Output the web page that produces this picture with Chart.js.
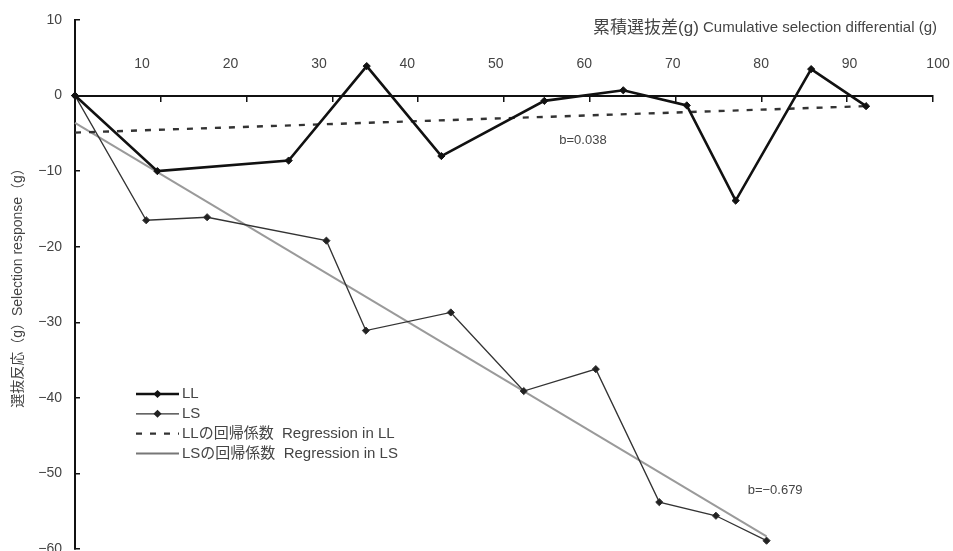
<!DOCTYPE html>
<html>
<head>
<meta charset="utf-8">
<script src="https://cdn.jsdelivr.net/npm/chart.js@4/dist/chart.umd.min.js"></script>
<style>
  html, body { margin: 0; padding: 0; background: #fff; overflow: hidden; }
  #wrap { position: relative; width: 953px; height: 554px; }
</style>
</head>
<body>
<div id="wrap"><canvas id="c"></canvas></div>
<script>
// Cumulative selection differential (g) and selection response (g) per generation
const llX = [0, 9.6, 24.9, 34.0, 42.7, 54.7, 63.9, 71.3, 77.0, 85.8, 92.2];
const llY = [0, -10.0, -8.6, 3.9, -8.0, -0.7, 0.7, -1.3, -13.9, 3.5, -1.4];
const lsX = [0, 8.3, 15.4, 29.3, 33.9, 43.8, 52.3, 60.7, 68.1, 74.7, 80.6];
const lsY = [0, -16.5, -16.1, -19.2, -31.1, -28.7, -39.1, -36.2, -53.8, -55.6, -58.9];

// Regression coefficients (slope b) and intercepts
const llSlope = 0.038, llIntercept = -4.9;
const lsSlope = -0.679, lsIntercept = -3.6;

const xTickLabels = [10, 20, 30, 40, 50, 60, 70, 80, 90, 100];
const seriesNames = ['LL', 'LS', 'LLの回帰係数  Regression in LL', 'LSの回帰係数  Regression in LS'];
const xTitleJa = '累積選抜差(g)';
const xTitleEn = ' Cumulative selection differential (g)';
const yTitle = '選抜反応（g）Selection response（g）';

const FONT = '"Liberation Sans", "Noto Sans CJK JP", sans-serif';
const TEXT = '#444';
const AXIS = '#111';

const pts = (xs, ys) => xs.map((x, i) => ({ x, y: ys[i] }));
const regLine = (b, a, xs) => {
  const x0 = 0, x1 = xs[xs.length - 1];
  return [{ x: x0, y: a + b * x0 }, { x: x1, y: a + b * x1 }];
};

const datasets = [
  { label: seriesNames[0], data: pts(llX, llY), borderColor: '#111', backgroundColor: '#111',
    borderWidth: 2.6, pointStyle: 'rectRot', pointRadius: 3.6, pointBorderWidth: 1, order: 1 },
  { label: seriesNames[1], data: pts(lsX, lsY), borderColor: '#333', backgroundColor: '#222',
    borderWidth: 1.3, pointStyle: 'rectRot', pointRadius: 3.6, pointBorderWidth: 1, order: 2 },
  { label: seriesNames[2], data: regLine(llSlope, llIntercept, llX), borderColor: '#333',
    borderWidth: 2.4, borderDash: [6, 8], pointRadius: 0, order: 3 },
  { label: seriesNames[3], data: regLine(lsSlope, lsIntercept, lsX), borderColor: '#9a9a9a',
    borderWidth: 2, pointRadius: 0, order: 4 }
];

// Axis title, slope notes and the inset legend
const notes = {
  id: 'notes',
  afterDatasetsDraw(chart) {
    const { ctx, chartArea: ca, scales: { x, y } } = chart;
    ctx.save();
    ctx.fillStyle = TEXT;
    ctx.textBaseline = 'middle';

    // x-axis title: Japanese part set a little larger than the English part
    const ty = ca.top + 8;
    ctx.textAlign = 'right';
    ctx.font = '15px ' + FONT;
    const enRight = ca.right + 4;
    ctx.fillText(xTitleEn, enRight, ty);
    const enW = ctx.measureText(xTitleEn).width;
    ctx.font = '17px ' + FONT;
    ctx.fillText(xTitleJa, enRight - enW, ty);

    ctx.font = '13px ' + FONT;
    ctx.textAlign = 'center';
    ctx.fillText('b=' + llSlope.toFixed(3), x.getPixelForValue(59.2), y.getPixelForValue(-5.9));
    ctx.fillText('b=' + lsSlope.toFixed(3).replace('-', '−'), x.getPixelForValue(81.6), y.getPixelForValue(-52.2));

    // legend
    ctx.font = '15px ' + FONT;
    const lx = ca.left + 61, sw = 43, top = ca.top + 374, gap = 19.8;
    datasets.forEach((d, i) => {
      const ly = top + i * gap;
      ctx.save();
      ctx.strokeStyle = i === 3 ? '#777' : d.borderColor;
      ctx.lineWidth = d.borderWidth;
      ctx.setLineDash(d.borderDash || []);
      ctx.beginPath();
      ctx.moveTo(lx, ly);
      ctx.lineTo(lx + sw, ly);
      ctx.stroke();
      ctx.restore();
      if (d.pointRadius > 0) {
        ctx.save();
        ctx.fillStyle = d.backgroundColor;
        ctx.translate(lx + sw / 2, ly);
        ctx.rotate(Math.PI / 4);
        const r = d.pointRadius * 0.8;
        ctx.fillRect(-r, -r, 2 * r, 2 * r);
        ctx.restore();
      }
      ctx.textAlign = 'left';
      ctx.fillStyle = TEXT;
      ctx.fillText(d.label, lx + sw + 3, ly);
    });
    ctx.restore();
  }
};

new Chart(document.getElementById('c'), {
  type: 'line',
  data: { datasets },
  options: {
    responsive: true,
    maintainAspectRatio: false,
    animation: false,
    clip: false,
    layout: { padding: { top: 20, right: 20, left: 0, bottom: 1 } },
    plugins: { legend: { display: false }, tooltip: { enabled: false } },
    scales: {
      x: {
        type: 'linear', position: { y: 0 }, min: 0, max: 100,
        afterFit: s => { s.height = 0; },
        ticks: { display: false, stepSize: 10 },
        grid: { drawOnChartArea: false, color: AXIS, lineWidth: 1.5, tickLength: 5 },
        border: { display: true, color: AXIS, width: 2 }
      },
      xl: {
        type: 'linear', position: { y: 0 }, min: 2.42, max: 99.43,
        afterFit: s => { s.height = 0; },
        afterBuildTicks: s => { s.ticks = xTickLabels.map(v => ({ value: v })); },
        grid: { display: false, drawTicks: false },
        border: { display: false },
        ticks: { padding: -40, autoSkip: false, maxRotation: 0, color: TEXT, font: { family: FONT, size: 14 } }
      },
      y: {
        type: 'linear', position: 'left', min: -60, max: 10,
        // fixed axis band; the bottom label may run off the canvas edge
        afterFit: s => { s.width = 75; s.paddingTop = 0; s.paddingBottom = 0; },
        ticks: {
          stepSize: 10, padding: 18, color: TEXT, font: { family: FONT, size: 14 },
          callback: v => String(v).replace('-', '−')
        },
        grid: { drawOnChartArea: false, color: AXIS, lineWidth: 1.5, tickLength: -5 },
        border: { display: true, color: AXIS, width: 2 },
        title: { display: true, text: yTitle, color: TEXT, font: { family: FONT, size: 14 }, padding: { top: 10, bottom: 0 } }
      }
    }
  },
  plugins: [notes]
});
</script>
</body>
</html>
